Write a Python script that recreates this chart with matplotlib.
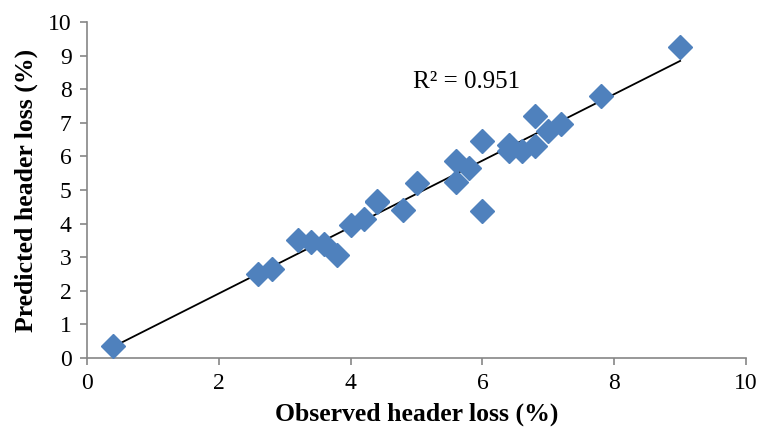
import numpy as np
import matplotlib
matplotlib.use("Agg")
import matplotlib.pyplot as plt

plt.rcParams["font.family"] = ["Liberation Serif", "DejaVu Serif"]

observado = [0.4, 2.6, 2.8, 3.2, 3.4, 3.6, 3.8, 4.0, 4.2, 4.4, 4.4, 4.8, 5.0,
             5.6, 5.6, 5.8, 6.0, 6.0, 6.4, 6.4, 6.6, 6.8, 6.8, 7.0, 7.2, 7.8, 9.0]
previsto = [0.35, 2.5, 2.65, 3.5, 3.45, 3.4, 3.07, 3.97, 4.15, 4.68, 4.65, 4.4, 5.2,
            5.25, 5.87, 5.65, 6.45, 4.37, 6.35, 6.15, 6.15, 6.3, 7.2, 6.75, 6.95, 7.8, 9.25]

x = np.array(observado)
y = np.array(previsto)
a, b = np.polyfit(x, y, 1)
xs = np.array([x.min(), x.max()])

fig = plt.figure(figsize=(7.59, 4.37), dpi=100)
ax = fig.add_axes([87 / 759, 79 / 437, 659 / 759, 336 / 437])

ax.plot(xs, a * xs + b, color="black", linewidth=1.3, zorder=2)
ax.plot(x, y, linestyle="none", marker="D", markersize=12.5,
        color="#4F81BD", markeredgecolor="#4F81BD", zorder=3)

ax.text(0.495, 0.82, "R² = 0.951", transform=ax.transAxes, fontsize=18,
        va="center")

ax.set_xlim(0, 10)
ax.set_ylim(0, 10)
ax.set_xticks(range(0, 11, 2))
ax.set_yticks(range(0, 11, 1))
for lado in ["top", "right"]:
    ax.spines[lado].set_visible(False)
for lado in ["left", "bottom"]:
    ax.spines[lado].set_color("#868686")
    ax.spines[lado].set_linewidth(1.2)
ax.tick_params(direction="out", length=5, width=1.2, color="#868686",
               labelsize=17, pad=6)

ax.set_xlabel("Observed header loss (%)", fontsize=18.5, fontweight="bold",
              labelpad=6)
ax.set_ylabel("Predicted header loss (%)", fontsize=18.5, fontweight="bold",
              labelpad=7)

plt.savefig("out.png", dpi=100)
plt.close()
